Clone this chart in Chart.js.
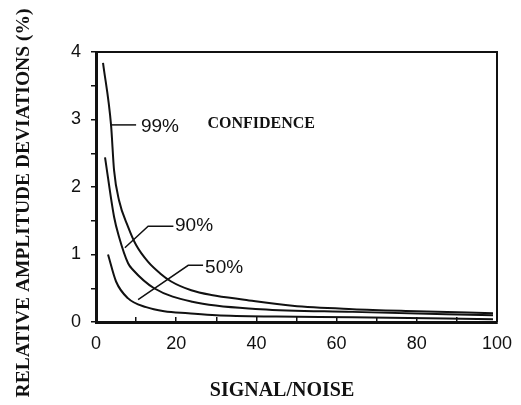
<!DOCTYPE html>
<html lang="en">
<head>
<meta charset="UTF-8">
<title>Relative Amplitude Deviations vs Signal/Noise</title>
<style>
    body {
        margin: 0;
        padding: 0;
        background-color: #fff;
    }
    #chart-box {
        width: 521px;
        height: 405px;
    }
</style>
</head>
<body>

<div id="chart-box">
    <canvas id="devChart" width="521" height="405"></canvas>
</div>

<script src="https://cdn.jsdelivr.net/npm/chart.js"></script>
<script>
    // values (signal/noise vs deviation in %)
    var snr99 = [1.75, 3.75, 4.5, 5.75, 8, 10, 13, 16, 18.75, 23.75, 28.75, 37, 49, 64, 80, 99];
    var dev99 = [3.84, 2.92, 2.25, 1.8, 1.41, 1.14, 0.89, 0.72, 0.6, 0.47, 0.4, 0.33, 0.24, 0.19, 0.16, 0.13];

    var snr90 = [2.25, 4.5, 5.75, 8, 9.25, 14.5, 24, 41, 64, 99];
    var dev90 = [2.44, 1.56, 1.26, 0.87, 0.77, 0.5, 0.3, 0.19, 0.15, 0.1];

    var snr50 = [3, 5, 8, 12.5, 17, 23, 30, 45, 64, 99];
    var dev50 = [1.0, 0.6, 0.35, 0.22, 0.16, 0.13, 0.1, 0.08, 0.07, 0.04];

    var curveNames = ['99%', '90%', '50%'];
    var xTickLabels = [0, 20, 40, 60, 80, 100];
    var yTickLabels = [0, 1, 2, 3, 4];

    var ink = '#111';
    var serif = '"Liberation Serif", "Times New Roman", serif';
    var sans = '"Liberation Sans", Arial, sans-serif';

    function toPoints(xs, ys) {
        return xs.map(function (x, i) { return { x: x, y: ys[i] }; });
    }

    // frame, leader lines, labels and axis titles
    var notes = {
        id: 'notes',
        afterDatasetsDraw: function (chart) {
            var ctx = chart.ctx;
            var xs = chart.scales.x, ys = chart.scales.y;
            var a = chart.chartArea;
            function px(v) { return xs.getPixelForValue(v); }
            function py(v) { return ys.getPixelForValue(v); }

            ctx.save();
            // top and right sides of the frame
            ctx.strokeStyle = ink;
            ctx.lineWidth = 2;
            ctx.beginPath();
            ctx.moveTo(a.left, a.top);
            ctx.lineTo(a.right, a.top);
            ctx.lineTo(a.right, a.bottom);
            ctx.stroke();

            var leaders = [
                [[3.6, 2.92], [10, 2.92]],
                [[7.2, 1.10], [13, 1.42], [19.3, 1.42]],
                [[10.5, 0.33], [23, 0.84], [26.7, 0.84]]
            ];
            ctx.lineWidth = 1.5;
            leaders.forEach(function (path) {
                ctx.beginPath();
                path.forEach(function (p, i) {
                    if (i === 0) ctx.moveTo(px(p[0]), py(p[1]));
                    else ctx.lineTo(px(p[0]), py(p[1]));
                });
                ctx.stroke();
            });

            ctx.fillStyle = ink;
            ctx.textBaseline = 'middle';
            ctx.textAlign = 'left';
            ctx.font = '19px ' + sans;
            ctx.fillText(curveNames[0], px(11.2), py(2.89));
            ctx.fillText(curveNames[1], px(19.7), py(1.42));
            ctx.fillText(curveNames[2], px(27.2), py(0.81));

            ctx.font = 'bold 16px ' + serif;
            ctx.fillText('CONFIDENCE', px(27.8), py(2.93));

            // axis titles
            ctx.font = 'bold 20px ' + serif;
            ctx.textAlign = 'center';
            ctx.fillText('SIGNAL/NOISE', 282, 391);

            ctx.translate(24, 203);
            ctx.rotate(-Math.PI / 2);
            ctx.font = 'bold 19.5px ' + serif;
            ctx.fillText('RELATIVE AMPLITUDE DEVIATIONS (%)', 0, 0);
            ctx.restore();
        }
    };

    var curveStyle = {
        borderColor: ink,
        borderWidth: 2,
        pointRadius: 0,
        fill: false,
        cubicInterpolationMode: 'monotone'
    };

    var ctx1 = document.getElementById('devChart').getContext('2d');
    var devChart = new Chart(ctx1, {
        type: 'line',
        data: {
            datasets: [
                Object.assign({ label: curveNames[0], data: toPoints(snr99, dev99) }, curveStyle),
                Object.assign({ label: curveNames[1], data: toPoints(snr90, dev90) }, curveStyle),
                Object.assign({ label: curveNames[2], data: toPoints(snr50, dev50) }, curveStyle)
            ]
        },
        options: {
            responsive: false,
            animation: false,
            layout: {
                padding: { left: 0, right: 24, top: 52, bottom: 0 }
            },
            plugins: {
                legend: { display: false },
                tooltip: { enabled: false }
            },
            scales: {
                x: {
                    type: 'linear',
                    min: 0,
                    max: 100,
                    afterFit: function (s) {
                        s.height = 83;
                        s.paddingLeft = 0;
                        s.paddingRight = 0;
                    },
                    ticks: {
                        stepSize: 10,
                        autoSkip: false,
                        maxRotation: 0,
                        padding: 16,
                        color: ink,
                        font: { family: 'Liberation Sans', size: 18 },
                        callback: function (v) { return xTickLabels.indexOf(v) >= 0 ? String(v) : ''; }
                    },
                    grid: {
                        drawOnChartArea: false,
                        tickLength: -5,
                        color: ink,
                        lineWidth: 1.5
                    },
                    border: { color: ink, width: 3 }
                },
                y: {
                    min: 0,
                    max: 4,
                    afterFit: function (s) { s.width = 96; },
                    ticks: {
                        stepSize: 0.5,
                        autoSkip: false,
                        padding: 10,
                        color: ink,
                        font: { family: 'Liberation Sans', size: 18 },
                        callback: function (v) { return yTickLabels.indexOf(v) >= 0 ? String(v) : ''; }
                    },
                    grid: {
                        drawOnChartArea: false,
                        tickLength: 5,
                        color: ink,
                        lineWidth: 1.5
                    },
                    border: { color: ink, width: 3 }
                }
            }
        },
        plugins: [notes]
    });
</script>

</body>
</html>
